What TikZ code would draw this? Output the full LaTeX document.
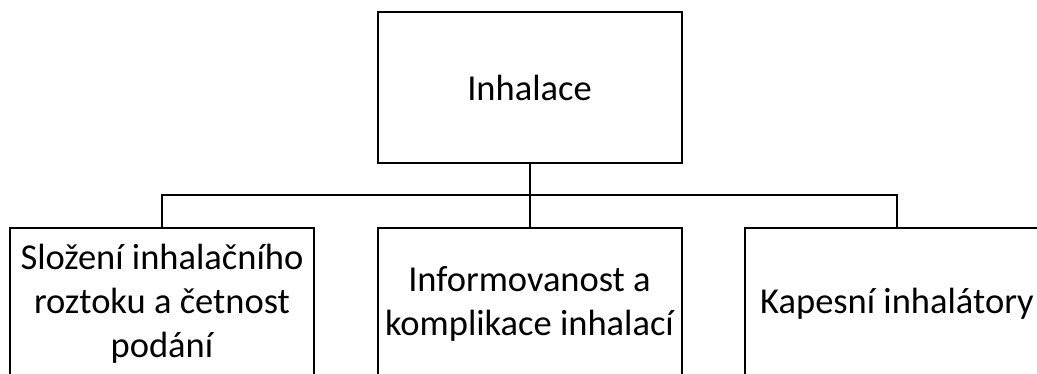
\documentclass[tikz,border=0pt]{standalone}
\usepackage{fontspec}
\setmainfont{Carlito}
\usetikzlibrary{calc}
\usetikzlibrary{positioning}
\tikzstyle{topicbox} = [draw, line width=2pt, rectangle, minimum width=304pt, minimum height=151pt, inner sep=2pt, align=center, font=\fontsize{36.5}{44}\selectfont]
\tikzstyle{branch} = [line width=2pt]

\begin{document}
\begin{tikzpicture}[x=1pt, y=-1pt]
    \useasboundingbox (0,0) rectangle (1037,374);
    \clip (0,0) rectangle (1037,374);
    \node[topicbox] (root) at (529.5,87.5) {Inhalace};
    \node[topicbox] (sub_left) at (162,303.5) {Složení inhalačního\\roztoku a četnost\\podání};
    \node[topicbox] (sub_mid) at (529.5,303.5) {Informovanost a\\komplikace inhalací};
    \node[topicbox] (sub_right) at (897,303.5) {Kapesní inhalátory};
    \coordinate (bus) at ($(root.south)!0.5!(sub_mid.north)$);
    \draw[branch] (root.south) -- (sub_mid.north);
    \draw[branch] (sub_left.north) |- (bus) -| (sub_right.north);
\end{tikzpicture}
\end{document}
